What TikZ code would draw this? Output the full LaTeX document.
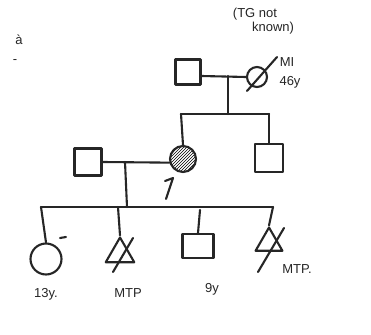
\documentclass[tikz,border=0pt]{standalone}
\usepackage{fontspec}
\setmainfont{Liberation Sans}
\usetikzlibrary{patterns,arrows.meta,shapes.geometric}
\begin{document}
\begin{tikzpicture}[x=1pt,y=-1pt,
  ink/.style={draw=black!85,line width=2.1pt,line cap=round,line join=round},
  male/.style={ink,rectangle,minimum size=25pt,inner sep=0pt},
  female/.style={ink,circle,minimum size=26pt,inner sep=0pt},
  preg/.style={ink,regular polygon,regular polygon sides=3,minimum size=33pt,inner sep=0pt},
  lab/.style={font=\fontsize{13}{13}\selectfont,text=black!85,inner sep=1pt},
  conn/.style={ink}]
\useasboundingbox[fill=white] (0,0) rectangle (371,334);
% fragments at left edge
\node[lab] (fa) at (19,40) {à};
\node[lab] (fb) at (15,62) {-};
% Generation I
\node[male] (g1m) at (188,72) {};
\node[female,minimum size=20pt] (g1f) at (257,77) {};
\draw[ink] (247,91) -- (277,57);
\node[lab] (tg) at (255,14) {(TG not};
\node[lab] (tg2) at (273,28) {known)};
\node[lab] (mi) at (287,62) {MI};
\node[lab] (age1) at (290,82) {46y};
\coordinate (m1) at (228,76);
\draw[conn] (g1m.east |- m1) -- (g1f.west);
\coordinate (s1) at (228,114);
\draw[conn] (m1) -- (s1);
% Generation II
\node[female,pattern=north east lines] (pro) at (183,159) {};
\node[male,minimum size=28pt] (sib) at (269,158) {};
\node[male,minimum size=27pt] (sp) at (88,162) {};
\coordinate (s1l) at (181,114);
\coordinate (s1r) at (269,114);
\draw[conn] (s1l) -- (s1r);
\draw[conn] (s1l) -- (pro.north);
\draw[conn] (s1r) -- (sib.north);
\draw[conn] (sp.east) -- (pro.195);
\coordinate (m2) at (125,162);
\coordinate (s2) at (127,207);
\draw[conn] (m2) -- (s2);
% proband arrow
\coordinate (pa) at (166,199);
\coordinate (pb) at (173,178);
\draw[ink] (pa) -- (pb) -- (165,181);
% Generation III
\coordinate (c1t) at (41,207);
\coordinate (c4t) at (273,207);
\draw[conn] (c1t) -- (c4t);
\node[female,minimum size=31pt] (c1) at (46,259) {};
\draw[conn] (c1t) -- (c1.north);
\draw[ink] (60,238) -- (66,237);
\node[lab] (l1) at (46,294) {13y.};
\node[preg] (c2) at (120,254) {};
\draw[conn] (118,207) -- (c2.north);
\draw[ink] (113,272) -- (133,238);
\node[lab] (l2) at (128,293) {MTP};
\node[male,minimum width=31pt,minimum height=24pt] (c3) at (198,246) {};
\draw[conn] (200,210) -- (c3.north);
\node[lab] (l3) at (212,289) {9y};
\node[preg,minimum size=31pt] (c4) at (269,243) {};
\draw[conn] (c4t) -- (c4.north);
\draw[ink] (258,272) -- (284,228);
\node[lab] (l4) at (297,269) {MTP.};
\end{tikzpicture}
\end{document}
